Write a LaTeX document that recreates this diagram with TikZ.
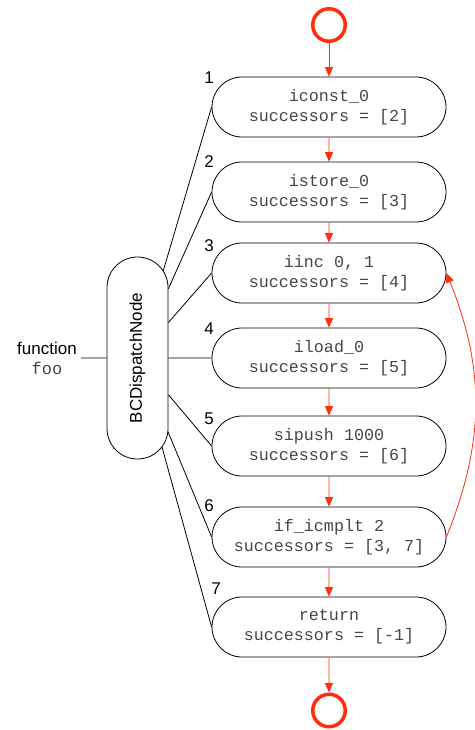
\documentclass[tikz,border=0pt]{standalone}
\usepackage{fontspec}
\setmainfont{Liberation Sans}
\setmonofont{Liberation Mono}
\usetikzlibrary{shapes.misc, arrows.meta, positioning}
\definecolor{flowred}{RGB}{255,45,10}
\definecolor{codegray}{RGB}{70,70,70}

\begin{document}
\begin{tikzpicture}[x=1pt, y=-1pt,
    every node/.style={font=\fontsize{17}{20}\selectfont},
    insn/.style={draw, rounded rectangle, line width=0.8pt, minimum width=238pt, minimum height=60pt,
      inner sep=2pt, align=center, text=codegray, font=\ttfamily\fontsize{16.7}{20}\selectfont},
    endpt/.style={draw=flowred, circle, line width=3.5pt, minimum size=32.5pt, inner sep=0pt},
    flow/.style={-{Triangle[length=9.5pt, width=8pt]}, flowred, line width=0.8pt},
    link/.style={line width=0.8pt}]
  \useasboundingbox (0,0) rectangle (474,730);

  % entry / exit markers
  \node[endpt] (start) at (329,25) {};
  \node[endpt] (stop) at (329,710.5) {};

  % bytecode instructions
  \node[insn] (n1) at (329,107) {iconst\_0\\successors = [2]};
  \node[insn] (n2) at (329,192) {istore\_0\\successors = [3]};
  \node[insn] (n3) at (329,273) {iinc 0, 1\\successors = [4]};
  \node[insn] (n4) at (329,358) {iload\_0\\successors = [5]};
  \node[insn] (n5) at (329,446) {sipush 1000\\successors = [6]};
  \node[insn] (n6) at (329,537) {if\_icmplt 2\\successors = [3, 7]};
  \node[insn] (n7) at (329,627) {return\\successors = [-1]};

  % dispatch node and the function it belongs to
  \node[draw, rounded rectangle, rotate=90, line width=0.8pt, minimum width=206pt, minimum height=61pt,
    inner sep=2pt] (disp) at (137.5,358) {BCDispatchNode};
  \node[align=center, inner sep=4pt] (func) at (47,358) {function\\\texttt{\color{codegray}foo}};
  \draw[link] (func) -- (disp);

  % dispatch edges with their indices
  \foreach \i in {1,...,7}
    \draw[link] (disp) -- (n\i.west);
  \node (l1) at (209,78) {1};
  \node (l2) at (209,162) {2};
  \node (l3) at (209,246) {3};
  \node (l4) at (209,329) {4};
  \node (l5) at (209,419) {5};
  \node (l6) at (209,506) {6};
  \node (l7) at (216,589) {7};

  % control flow
  \draw[flow] (start) -- (n1);
  \draw[flow] (n1) -- (n2);
  \draw[flow] (n2) -- (n3);
  \draw[flow] (n3) -- (n4);
  \draw[flow] (n4) -- (n5);
  \draw[flow] (n5) -- (n6);
  \draw[flow] (n6) -- (n7);
  \draw[flow] (n7) -- (stop);
  \draw[flow] (n6.east) to[bend right=22] (n3.east);
\end{tikzpicture}
\end{document}
